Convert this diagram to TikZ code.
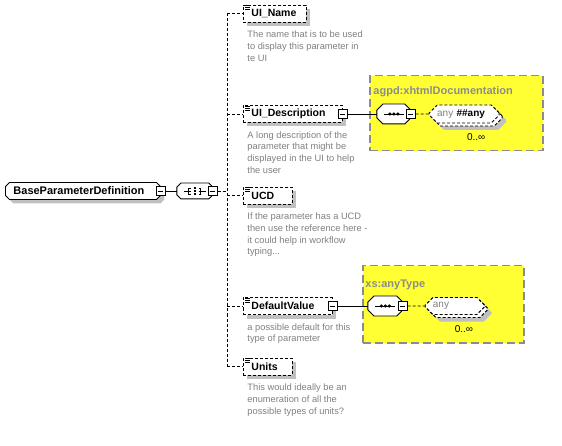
\documentclass[tikz,border=0pt]{standalone}
\usepackage{fontspec}
\setmainfont{Liberation Sans}
\usetikzlibrary{positioning,shapes.misc,shadows}

\definecolor{doctext}{HTML}{808080}
\definecolor{typefill}{HTML}{FFFF33}
\definecolor{typeedge}{HTML}{8C8C8C}
\definecolor{shade}{HTML}{C0C0C0}

\tikzset{
  dropit/.style={drop shadow={shadow xshift=4pt, shadow yshift=-4pt, fill=shade, opacity=1}},
  optline/.style={dash pattern=on 3pt off 2pt},
  elem/.style={draw, optline, fill=white, dropit, anchor=west, text width=#1, align=left,
    inner xsep=8pt, inner ysep=0pt, minimum height=17pt, font=\fontsize{10.5}{12}\selectfont\bfseries},
  rootelem/.style={chamfered rectangle, chamfered rectangle xsep=2pt, chamfered rectangle ysep=2pt,
    draw, solid, fill=white, dropit, anchor=west, text width=#1, align=left,
    inner xsep=6pt, inner ysep=0pt, minimum height=17pt, font=\fontsize{11}{12}\selectfont\bfseries},
  fold/.style={draw, solid, fill=white, minimum size=9pt, inner sep=0pt,
    path picture={\draw ([xshift=2pt]path picture bounding box.west) -- ([xshift=-2pt]path picture bounding box.east);}},
  compositor/.style={inner sep=0pt, minimum width=#1},
  doc/.style={text=doctext, align=left, inner sep=0pt, font=\fontsize{9.3}{11.7}\selectfont},
  typebox/.style={draw=typeedge, line width=1.5pt, dash pattern=on 8pt off 4pt, fill=typefill, anchor=north west, inner sep=0pt},
  typelabel/.style={text=typeedge, inner sep=0pt, anchor=north west, font=\fontsize{11}{13}\selectfont\bfseries},
  wildcard/.style={chamfered rectangle, chamfered rectangle xsep=4pt, chamfered rectangle ysep=4pt,
    draw, optline, fill=white,
    drop shadow={shadow xshift=7pt, shadow yshift=-7pt, fill=shade, opacity=1},
    general shadow={shadow xshift=3pt, shadow yshift=-3pt, fill=white, draw=black},
    text width=#1, align=left, inner xsep=4pt, inner ysep=0pt, minimum height=18pt, font=\fontsize{10}{12}\selectfont},
  occurs/.style={inner sep=0pt, anchor=north, font=\fontsize{10}{12}\selectfont},
}

% octagon round a compositor node: name, chamfer
\newcommand\octpath[2]{([xshift=#2]#1.north west) -- ([xshift=-#2]#1.north east)
  -- ([yshift=-#2]#1.north east) -- ([yshift=#2]#1.south east) -- ([xshift=-#2]#1.south east)
  -- ([xshift=#2]#1.south west) -- ([yshift=#2]#1.south west) -- ([yshift=-#2]#1.north west) -- cycle}
\newcommand\drawcompositor[2]{%
  \fill[shade, shift={(4pt,-4pt)}] \octpath{#1}{#2};
  \draw[solid, fill=white] \octpath{#1}{#2};
}
\newcommand\seqsymbol[1]{%
  \draw[solid] ([xshift=-10pt]#1.center) -- ([xshift=10pt]#1.center);
  \foreach \dx in {-4,0,4} \fill ([xshift=\dx pt]#1.center) circle[radius=1.7pt];
}
\newcommand\allsymbol[1]{%
  \draw[solid] ([xshift=-11pt]#1.center) -- ([xshift=-4pt]#1.center);
  \draw[solid] ([xshift=-4pt,yshift=3pt]#1.center) -- ([xshift=-6pt,yshift=3pt]#1.center)
    -- ([xshift=-6pt,yshift=-3pt]#1.center) -- ([xshift=-4pt,yshift=-3pt]#1.center);
  \draw[solid] ([xshift=11pt]#1.center) -- ([xshift=4pt]#1.center);
  \draw[solid] ([xshift=4pt,yshift=3pt]#1.center) -- ([xshift=6pt,yshift=3pt]#1.center)
    -- ([xshift=6pt,yshift=-3pt]#1.center) -- ([xshift=4pt,yshift=-3pt]#1.center);
  \foreach \dy in {-3,0,3} \fill ([xshift=-1pt,yshift=\dy pt-1pt]#1.center) rectangle ++(2pt,2pt);
}
\newcommand\elemicon[1]{%
  \foreach \dy in {1,3,5} \draw[solid, line width=0.6pt] ([xshift=2pt,yshift=-\dy pt]#1.north west) -- ++(5pt,0pt);
}

\begin{document}
\begin{tikzpicture}[x=1pt, y=-1pt, line width=0.9pt]
\useasboundingbox (0,0) rectangle (562,446);

\node[typebox, minimum width=173pt, minimum height=75pt] (xhtmlbox) at (369,75) {};
\node[typelabel] at ([xshift=4pt,yshift=-11pt]xhtmlbox.north west) {agpd:xhtmlDocumentation};
\node[typebox, minimum width=161pt, minimum height=77pt] (anytypebox) at (362,265) {};
\node[typelabel] at ([xshift=3pt,yshift=-14pt]anytypebox.north west) {xs:anyType};

\node[rootelem=139pt] (bpd) at (5,191) {BaseParameterDefinition};
\node[fold] (bpdfold) at (bpd.east) {};
\node[compositor=35pt, minimum height=15pt, right=11pt of bpdfold] (bpdall) {};
\drawcompositor{bpdall}{4pt}
\allsymbol{bpdall}
\node[fold] (bpdallfold) at (bpdall.east) {};
\draw (bpdfold) -- (bpdall);

\coordinate (bus) at (227,0);

\node[elem=47pt] (uiname) at (243,13.5) {UI\_Name};
\node[elem=83pt] (uidesc) at (243,114) {UI\_Description};
\node[elem=33pt] (ucd) at (243,195.5) {UCD};
\node[elem=73pt] (defval) at (243,306) {DefaultValue};
\node[elem=33pt] (units) at (243,366.5) {Units};

\draw[optline] (bpdallfold) -- (bus |- bpdallfold);
\draw[optline] (bus |- uiname.west) -- (bus |- units.west);
\foreach \e in {uiname,uidesc,ucd,defval,units} {
  \draw[optline] (bus |- \e.west) -- (\e.west);
  \elemicon{\e}
}

\node[doc, below right=8pt and 4pt of uiname.south west] (uinamedoc)
  {The name that is to be used\\to display this parameter in\\te UI};
\node[doc, below right=8pt and 4pt of uidesc.south west] (uidescdoc)
  {A long description of the\\parameter that might be\\displayed in the UI to help\\the user};
\node[doc, below right=8pt and 4pt of ucd.south west] (ucddoc)
  {If the parameter has a UCD\\then use the reference here -\\it could help in workflow\\typing...};
\node[doc, below right=8pt and 4pt of defval.south west] (defvaldoc)
  {a possible default for this\\type of parameter};
\node[doc, below right=8pt and 4pt of units.south west] (unitsdoc)
  {This would ideally be an\\enumeration of all the\\possible types of units?};

\node[fold] (uidescfold) at (uidesc.east) {};
\node[compositor=33pt, minimum height=19pt, right=29pt of uidescfold] (xhtmlseq) {};
\drawcompositor{xhtmlseq}{6pt}
\seqsymbol{xhtmlseq}
\node[fold] (xhtmlseqfold) at (xhtmlseq.east) {};
\node[wildcard=54pt, right=13pt of xhtmlseqfold] (xhtmlany) {\textcolor{doctext}{any} \textbf{\#\#any}};
\node[occurs] (xhtmlocc) at ([xshift=12pt,yshift=-10pt]xhtmlany.south) {0..∞};
\draw (uidescfold) -- (xhtmlseq);
\draw[optline] (xhtmlseqfold) -- (xhtmlany);

\node[fold] (defvalfold) at (defval.east) {};
\node[compositor=34pt, minimum height=19pt, right=30pt of defvalfold] (anytypeseq) {};
\drawcompositor{anytypeseq}{6pt}
\seqsymbol{anytypeseq}
\node[fold] (anytypeseqfold) at (anytypeseq.east) {};
\node[wildcard=44pt, minimum height=17pt, right=17pt of anytypeseqfold] (anytypeany) {\textcolor{doctext}{any}};
\node[occurs] (anytypeocc) at ([xshift=9pt,yshift=-10pt]anytypeany.south) {0..∞};
\draw (defvalfold) -- (anytypeseq);
\draw[optline] (anytypeseqfold) -- (anytypeany);

\end{tikzpicture}
\end{document}
